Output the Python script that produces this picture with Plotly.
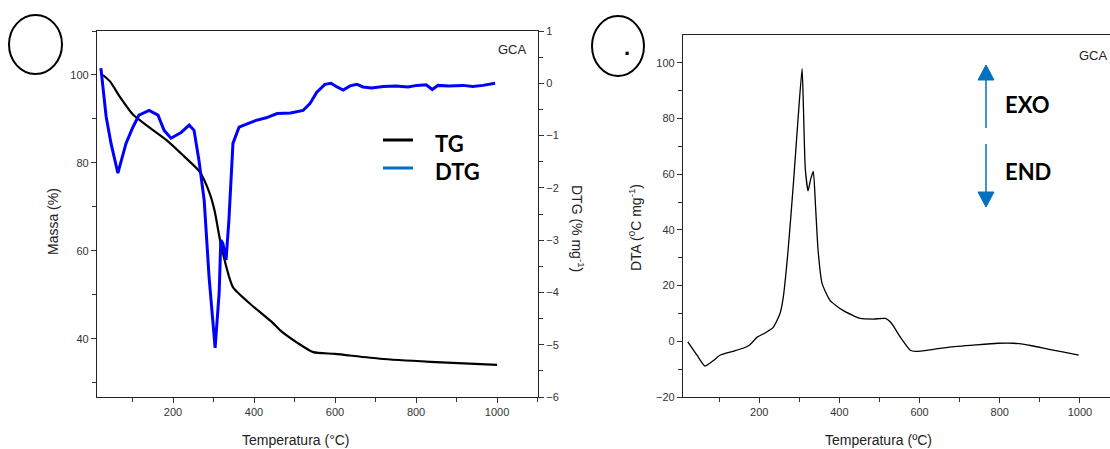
import plotly.graph_objects as go

W, H = 1110, 449

# ---- data ----
tg_T = [27, 45, 69, 101, 143, 184, 224, 266, 291, 303, 316, 330, 341, 349, 390, 447, 464, 509, 546, 600, 711, 835, 1000]
tg_m = [100, 98.5, 95, 91, 88, 85.2, 81.8, 78, 73, 69, 62.5, 57, 53.4, 51.6, 48, 43.6, 42, 39, 37, 36.6, 35.5, 34.8, 34.1]

dtg_T = [22, 35, 47, 64, 84, 101, 116, 141, 163, 178, 195, 220, 240, 252, 264, 277, 289, 304, 314, 318, 323, 331, 338, 348,
         363, 390, 405, 430, 457, 490, 521, 538, 555, 575, 590, 605, 620, 637, 654, 669, 690, 719, 750, 780, 802, 825, 840,
         854, 880, 916, 940, 965, 995]
dtg_d = [0.29, -0.64, -1.15, -1.72, -1.15, -0.84, -0.61, -0.52, -0.61, -0.9, -1.05, -0.94, -0.8, -0.9, -1.47, -2.24, -3.7,
         -5.06, -4.0, -3.0, -3.06, -3.38, -2.62, -1.15, -0.84, -0.75, -0.71, -0.66, -0.58, -0.57, -0.52, -0.39, -0.17, -0.02,
         0.0, -0.07, -0.13, -0.05, -0.02, -0.07, -0.09, -0.06, -0.05, -0.07, -0.04, -0.03, -0.12, -0.04, -0.05, -0.04,
         -0.06, -0.04, 0.0]

dta_T = [22, 45, 65, 85, 102, 135, 160, 177, 195, 215, 235, 252, 260, 272, 285, 297, 307, 310, 315, 322, 328, 335, 340, 347,
         357, 377, 410, 452, 485, 515, 530, 552, 577, 590, 630, 670, 740, 795, 835, 880, 920, 960, 997]
dta_v = [-0.2, -5, -8.9, -7, -5, -3.6, -2.5, -1.2, 1.5, 3.0, 5, 10, 15.7, 32.5, 56, 80, 98, 86, 62, 54, 58, 61, 50, 32.5,
         20.7, 14.6, 11, 8.2, 8.0, 8.2, 6.5, 1.5, -3.2, -3.6, -3.0, -2.2, -1.3, -0.7, -0.7, -1.6, -2.8, -3.9, -5]

xticks = [200, 400, 600, 800, 1000]

def px(x):
    return x / W

def py(y):
    return 1 - y / H

fig = go.Figure()
fig.add_trace(go.Scatter(x=tg_T, y=tg_m, mode="lines", line=dict(color="black", width=2.2, shape="spline", smoothing=0.6),
                         xaxis="x", yaxis="y", showlegend=False))
fig.add_trace(go.Scatter(x=dtg_T, y=dtg_d, mode="lines", line=dict(color="#0000FF", width=3),
                         xaxis="x", yaxis="y2", showlegend=False))
fig.add_trace(go.Scatter(x=dta_T, y=dta_v, mode="lines", line=dict(color="black", width=1.3, shape="spline", smoothing=0.5),
                         xaxis="x2", yaxis="y3", showlegend=False))

tickfont = dict(family="Arial, Liberation Sans, sans-serif", size=11, color="#333")
axcommon = dict(showgrid=False, zeroline=False, showline=True, linecolor="#222", linewidth=1.3, automargin=False,
                ticks="outside", ticklen=5, tickcolor="#333", tickfont=tickfont)

fig.update_layout(
    width=W, height=H, margin=dict(l=0, r=0, t=0, b=0, pad=0, autoexpand=False),
    plot_bgcolor="white", paper_bgcolor="white",
    xaxis=dict(domain=[px(97), px(538)], range=[12.4, 1101], tickvals=xticks, mirror=True,
               minor=dict(tickvals=[100, 300, 500, 700, 900, 1100], ticks="outside", ticklen=4, tickcolor="#333"),
               anchor="y", **axcommon),
    yaxis=dict(domain=[py(397), py(31)], range=[26.8, 110], tickvals=[40, 60, 80, 100],
               minor=dict(tickvals=[30, 50, 70, 90, 110], ticks="outside", ticklen=4, tickcolor="#333"),
               anchor="x", **axcommon),
    yaxis2=dict(overlaying="y", side="right", anchor="x", range=[-6, 1], tickvals=[-6, -5, -4, -3, -2, -1, 0, 1],
                minor=dict(tickvals=[-5.5, -4.5, -3.5, -2.5, -1.5, -0.5, 0.5], ticks="outside", ticklen=4, tickcolor="#333"),
                **axcommon),
    xaxis2=dict(domain=[px(683), 1.0], range=[10, 1075], tickvals=xticks, mirror=True,
                minor=dict(tickvals=[100, 300, 500, 700, 900], ticks="outside", ticklen=4, tickcolor="#333"),
                anchor="y3", **axcommon),
    yaxis3=dict(domain=[py(397), py(35)], range=[-20, 110], tickvals=[-20, 0, 20, 40, 60, 80, 100],
                minor=dict(tickvals=[-10, 10, 30, 50, 70, 90], ticks="outside", ticklen=4, tickcolor="#333"),
                anchor="x2", **axcommon),
)

titlefont = dict(family="Arial, Liberation Sans, sans-serif", size=14, color="#222")
ann = []
def text(x, y, t, font, angle=0, xanchor="center"):
    ann.append(dict(x=px(x), y=py(y), xref="paper", yref="paper", text=t, showarrow=False,
                    font=font, textangle=angle, xanchor=xanchor, yanchor="middle"))

text(296, 440, "Temperatura (°C)", titlefont)
text(878, 440, "Temperatura (ºC)", titlefont)
text(53, 222, "Massa (%)", titlefont, angle=-90)
text(578, 228, "DTG (% mg<sup>-1</sup>)", titlefont, angle=90)
text(635, 228, "DTA (<sup>0</sup>C mg<sup>-1</sup>)", titlefont, angle=-90)
gcafont = dict(family="Arial, Liberation Sans, sans-serif", size=13, color="#222")
text(512, 49, "GCA", gcafont)
text(1093, 55, "GCA", gcafont)
boldfont = dict(family="Lato, Open Sans, sans-serif", size=22, color="black")
text(433, 143, "<b>TG</b>", boldfont, xanchor="left")
text(433, 171, "<b>DTG</b>", boldfont, xanchor="left")
text(1003, 104, "<b>EXO</b>", boldfont, xanchor="left")
text(1003, 171, "<b>END</b>", boldfont, xanchor="left")
text(627, 48, "<b>.</b>", dict(family="Arial", size=22, color="black"))
fig.update_layout(annotations=ann)

shapes = []
def line(x0, y0, x1, y1, color, width):
    shapes.append(dict(type="line", xref="paper", yref="paper", x0=px(x0), y0=py(y0), x1=px(x1), y1=py(y1),
                       line=dict(color=color, width=width)))
def tri(pts, color):
    path = "M " + " L ".join(f"{px(a)},{py(b)}" for a, b in pts) + " Z"
    shapes.append(dict(type="path", xref="paper", yref="paper", path=path, fillcolor=color, line=dict(color=color, width=1)))
def circ(x0, y0, x1, y1):
    shapes.append(dict(type="circle", xref="paper", yref="paper", x0=px(x0), y0=py(y1), x1=px(x1), y1=py(y0),
                       line=dict(color="black", width=2)))

line(383, 140, 413, 140, "black", 3)
line(383, 168, 413, 168, "#0070C0", 3)
line(986, 79, 986, 128, "#0070C0", 1.5)
tri([(978, 80), (994, 80), (986, 65)], "#0070C0")
line(986, 144, 986, 193, "#0070C0", 1.5)
tri([(978, 192), (994, 192), (986, 207)], "#0070C0")
circ(9, 15, 62, 74)
circ(592, 16, 644, 76)
fig.update_layout(shapes=shapes)

fig.write_html("out.html")
